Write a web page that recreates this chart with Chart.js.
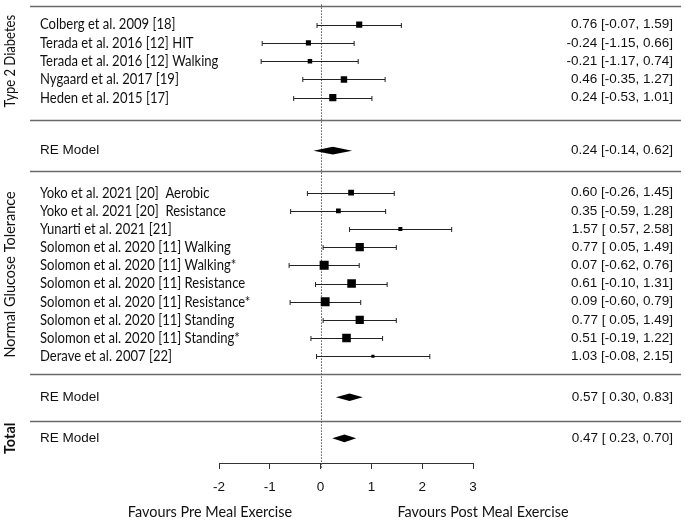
<!DOCTYPE html>
<html><head><meta charset="utf-8">
<script src="https://cdn.jsdelivr.net/npm/chart.js@4.4.0/dist/chart.umd.min.js"></script>
<style>html,body{margin:0;padding:0;background:#fff;}#wrap{width:685px;height:520px;}</style>
</head><body><div id="wrap"><canvas id="c" width="685" height="520"></canvas></div>
<script>
// ---------- DATA ----------
const t2dStudies = ['Colberg et al. 2009 [18]','Terada et al. 2016 [12] HIT','Terada et al. 2016 [12] Walking','Nygaard et al. 2017 [19]','Heden et al. 2015 [17]'];
const t2dEst = [0.76,-0.24,-0.21,0.46,0.24];
const t2dLo  = [-0.07,-1.15,-1.17,-0.35,-0.53];
const t2dHi  = [1.59,0.66,0.74,1.27,1.01];
const t2dRE  = [0.24,-0.14,0.62];
const ngtStudies = ['Yoko et al. 2021 [20]  Aerobic','Yoko et al. 2021 [20]  Resistance','Yunarti et al. 2021 [21]','Solomon et al. 2020 [11] Walking','Solomon et al. 2020 [11] Walking*','Solomon et al. 2020 [11] Resistance','Solomon et al. 2020 [11] Resistance*','Solomon et al. 2020 [11] Standing','Solomon et al. 2020 [11] Standing*','Derave et al. 2007 [22]'];
const ngtEst = [0.60,0.35,1.57,0.77,0.07,0.61,0.09,0.77,0.51,1.03];
const ngtLo  = [-0.26,-0.59,0.57,0.05,-0.62,-0.10,-0.60,0.05,-0.19,-0.08];
const ngtHi  = [1.45,1.28,2.58,1.49,0.76,1.31,0.79,1.49,1.22,2.15];
const ngtRE  = [0.57,0.30,0.83];
const totalRE = [0.47,0.23,0.70];
const groupLabels = ['Type 2 Diabetes','Normal Glucose Tolerance','Total'];
const modelLabel = 'RE Model';
const xTicks = [-2,-1,0,1,2,3];
const axisLabels = ['Favours Pre Meal Exercise','Favours Post Meal Exercise'];

// ---------- LAYOUT (row units on y scale) ----------
const T2D_START = 1, NGT_START = 10.2, NGT_STEP = 0.995;
const t2dRows = t2dStudies.map((_,i)=>T2D_START+i);
const ngtRows = ngtStudies.map((_,i)=>NGT_START+i*NGT_STEP);
const t2dRERow = 7.9, ngtRERow = 21.4, totalRow = 23.65;
const sepRows = [0, 6.2, 9.0, 20.15, 22.7];

const allEst = t2dEst.concat(ngtEst), allLo = t2dLo.concat(ngtLo), allHi = t2dHi.concat(ngtHi);
const allRows = t2dRows.concat(ngtRows);
const allNames = t2dStudies.concat(ngtStudies);
const wts = allLo.map((l,i)=>{const se=(allHi[i]-l)/3.92; return 1/(se*se);});
const wMin = Math.min(...wts), wMax = Math.max(...wts);
const sides = wts.map(w=>3.2+5.8*(w-wMin)/(wMax-wMin));

const f2 = v => v.toFixed(2);
const fCI = v => (v>=0?' ':'')+v.toFixed(2);
const ciText = (e,l,h) => f2(e)+' ['+fCI(l)+', '+f2(h)+']';

const LABEL_FONT = '15px Lato';
const NUM_FONT = '13.5px "Liberation Sans", Arial, sans-serif';
const TXT = '#111';

function condensedText(ctx, text, x, y, sx){
  ctx.save(); ctx.translate(x,y); ctx.scale(sx,1); ctx.fillText(text,0,0); ctx.restore();
}

const forestPlugin = {
  id: 'forest',
  beforeDatasetsDraw(chart){
    const ctx = chart.ctx, xs = chart.scales.x, ys = chart.scales.y;
    ctx.save();
    ctx.strokeStyle = '#6a6a6a'; ctx.lineWidth = 1.3;
    sepRows.forEach(r=>{const y=Math.round(ys.getPixelForValue(r))+0.5; ctx.beginPath(); ctx.moveTo(30,y); ctx.lineTo(681,y); ctx.stroke();});
    ctx.strokeStyle = '#555'; ctx.lineWidth = 1; ctx.setLineDash([1.5,1.5]);
    const x0 = Math.round(xs.getPixelForValue(0))+0.5;
    ctx.beginPath(); ctx.moveTo(x0, ys.getPixelForValue(0)-2); ctx.lineTo(x0, ys.bottom+6); ctx.stroke();
    ctx.setLineDash([]);
    ctx.strokeStyle = '#222'; ctx.lineWidth = 1;
    allRows.forEach((r,i)=>{
      const y = Math.round(ys.getPixelForValue(r))+0.5;
      const a = xs.getPixelForValue(allLo[i]), b = xs.getPixelForValue(allHi[i]);
      ctx.beginPath(); ctx.moveTo(a,y); ctx.lineTo(b,y);
      ctx.moveTo(a,y-2.5); ctx.lineTo(a,y+2.5);
      ctx.moveTo(b,y-2.5); ctx.lineTo(b,y+2.5);
      ctx.stroke();
    });
    ctx.restore();
  },
  afterDatasetsDraw(chart){
    const ctx = chart.ctx, xs = chart.scales.x, ys = chart.scales.y;
    ctx.save();
    ctx.fillStyle = '#000';
    [[t2dRE,t2dRERow],[ngtRE,ngtRERow],[totalRE,totalRow]].forEach(([m,r])=>{
      const y = ys.getPixelForValue(r), h = 3.8;
      ctx.beginPath();
      ctx.moveTo(xs.getPixelForValue(m[1]), y);
      ctx.lineTo(xs.getPixelForValue(m[0]), y-h);
      ctx.lineTo(xs.getPixelForValue(m[2]), y);
      ctx.lineTo(xs.getPixelForValue(m[0]), y+h);
      ctx.closePath(); ctx.fill();
    });
    ctx.restore();
  },
  afterDraw(chart){
    const ctx = chart.ctx, ys = chart.scales.y;
    ctx.save();
    ctx.fillStyle = TXT; ctx.textBaseline = 'middle';
    ctx.font = LABEL_FONT; ctx.textAlign = 'left';
    allRows.forEach((r,i)=>condensedText(ctx, allNames[i], 40, ys.getPixelForValue(r), 0.87));
    ctx.font = NUM_FONT;
    [t2dRERow, ngtRERow, totalRow].forEach(r=>ctx.fillText(modelLabel, 40, ys.getPixelForValue(r)));
    ctx.textAlign = 'right';
    allRows.forEach((r,i)=>ctx.fillText(ciText(allEst[i],allLo[i],allHi[i]), 673, ys.getPixelForValue(r)));
    [[t2dRE,t2dRERow],[ngtRE,ngtRERow],[totalRE,totalRow]].forEach(([m,r])=>ctx.fillText(ciText(m[0],m[1],m[2]), 673, ys.getPixelForValue(r)));
    ctx.textAlign = 'center';
    const gy = [(t2dRows[0]+t2dRows[t2dRows.length-1])/2, (ngtRows[0]+ngtRows[ngtRows.length-1])/2, totalRow];
    groupLabels.forEach((g,i)=>{
      ctx.save();
      ctx.translate(10, ys.getPixelForValue(gy[i]));
      ctx.rotate(-Math.PI/2);
      ctx.font = (i===2?'bold ':'')+'14.5px Lato';
      ctx.scale(i===0?0.9:1, 1);
      ctx.fillText(g,0,0);
      ctx.restore();
    });
    ctx.font = '15px Lato';
    condensedText(ctx, axisLabels[0], 210, 512, 0.96);
    condensedText(ctx, axisLabels[1], 483, 512, 0.96);
    ctx.restore();
  }
};

new Chart(document.getElementById('c'), {
  type: 'scatter',
  data: { datasets: [{
    data: allEst.map((e,i)=>({x:e, y:allRows[i]})),
    pointStyle: 'rect',
    pointRadius: sides.map(s=>s/Math.SQRT2),
    pointHoverRadius: sides.map(s=>s/Math.SQRT2),
    backgroundColor: '#000', borderWidth: 0
  }]},
  options: {
    responsive: false, animation: false,
    layout: { padding: { left: 219, right: 212, top: 3, bottom: 0 } },
    plugins: { legend: {display:false}, tooltip: {enabled:false} },
    scales: {
      x: {
        type: 'linear', min: xTicks[0], max: xTicks[xTicks.length-1],
        afterBuildTicks: s => { s.ticks = xTicks.map(v=>({value:v})); },
        afterFit: s => { s.height = 57; },
        grid: { drawOnChartArea: false, drawTicks: true, tickLength: 6, color: '#333', lineWidth: 1 },
        border: { display: true, color: '#333', width: 1 },
        ticks: { font: { family: '"Liberation Sans", Arial, sans-serif', size: 13.5 }, color: TXT, padding: 10, maxRotation: 0 }
      },
      y: { type: 'linear', min: 0, max: 25, reverse: true, display: false }
    }
  },
  plugins: [forestPlugin]
});
</script></body></html>
